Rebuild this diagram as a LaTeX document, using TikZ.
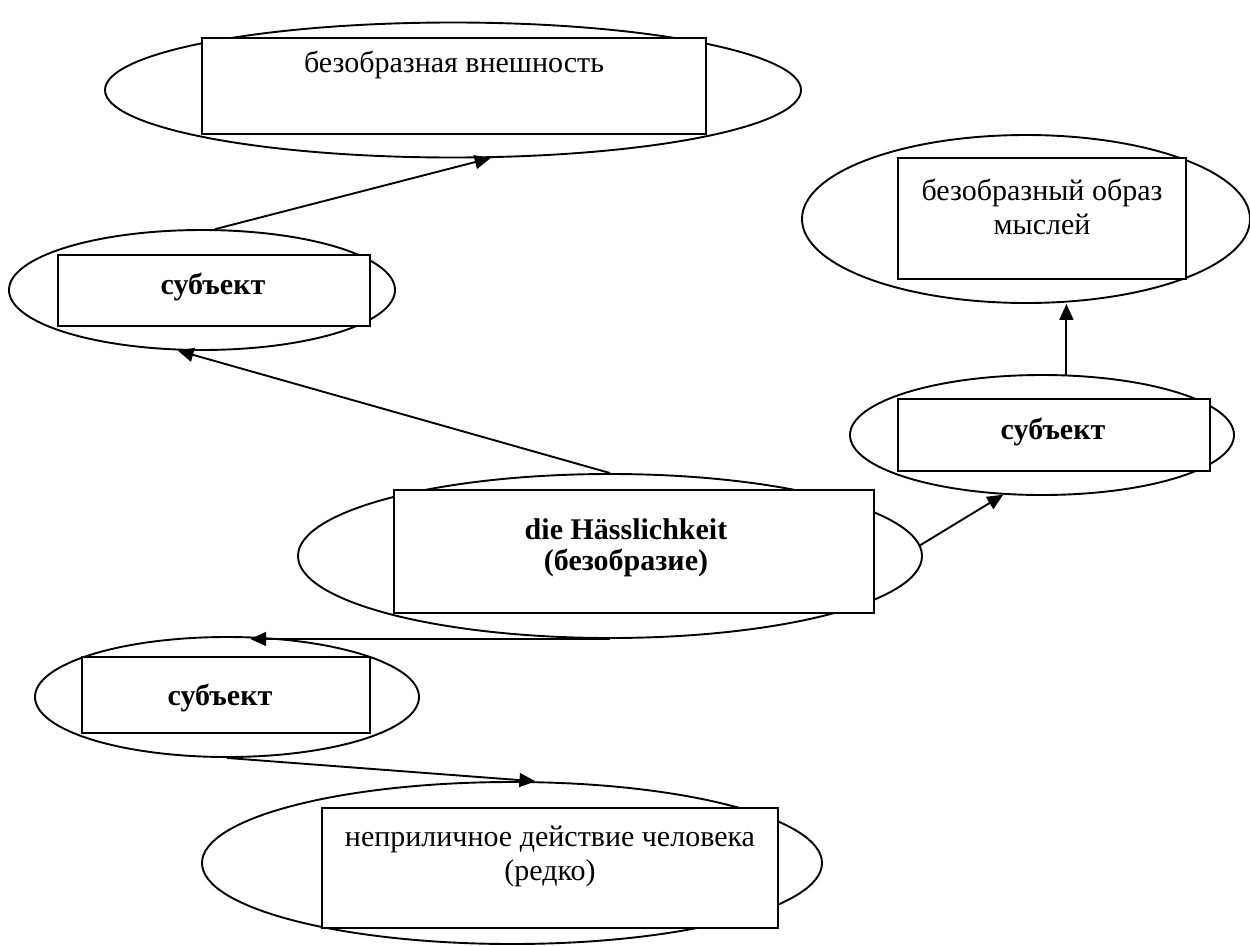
\documentclass[tikz,border=0pt]{standalone}
\usepackage{fontspec}
\setmainfont{Liberation Serif}
\usetikzlibrary{shapes.geometric,arrows.meta}
\begin{document}
\begin{tikzpicture}[x=1pt,y=-1pt,
  ell/.style={draw,ellipse,line width=1.9pt,inner sep=0pt},
  box/.style={draw,rectangle,fill=white,line width=1.9pt,inner sep=0pt},
  lbl/.style={align=center,font=\fontsize{30}{34}\selectfont,inner sep=0pt},
  blbl/.style={align=center,font=\fontsize{30}{31}\selectfont\bfseries,inner sep=0pt},
  arr/.style={line width=1.9pt,-{Triangle[length=16pt,width=14pt]}}]
\useasboundingbox[fill=white] (0,0) rectangle (1250,945);

% top: безобразная внешность
\node[ell,minimum width=696pt,minimum height=135pt] (e1) at (453,90) {};
\node[box,minimum width=504pt,minimum height=96pt] (r1) at (454,86) {};
\node[lbl] (t1) at (454,65) {безобразная внешность};

% subject 1
\node[ell,minimum width=386pt,minimum height=120pt] (e2) at (202,290) {};
\node[box,minimum width=312pt,minimum height=71pt] (r2) at (214,290.5) {};
\node[blbl] (t2) at (213,287) {субъект};

% top right: безобразный образ мыслей
\node[ell,minimum width=448pt,minimum height=168pt] (e3) at (1026,219) {};
\node[box,minimum width=288pt,minimum height=121pt] (r3) at (1042,218.5) {};
\node[lbl] (t3) at (1042,207) {безобразный образ\\мыслей};

% subject 2
\node[ell,minimum width=384pt,minimum height=120pt] (e4) at (1042,435) {};
\node[box,minimum width=312pt,minimum height=72pt] (r4) at (1054,435) {};
\node[blbl] (t4) at (1053,432) {субъект};

% main
\node[ell,minimum width=624pt,minimum height=164pt] (e0) at (610,556) {};
\node[box,minimum width=480pt,minimum height=123pt] (r0) at (634,551.5) {};
\node[blbl] (t0) at (626,548) {die Hässlichkeit\\(безобразие)};

% subject 3
\node[ell,minimum width=384pt,minimum height=120pt] (e5) at (227,697) {};
\node[box,minimum width=288pt,minimum height=76pt] (r5) at (226,695) {};
\node[blbl] (t5) at (220,698) {субъект};

% bottom: неприличное действие человека
\node[ell,minimum width=620pt,minimum height=162pt] (e6) at (512,863) {};
\node[box,minimum width=456pt,minimum height=120pt] (r6) at (550,868) {};
\node[lbl] (t6) at (550,856) {неприличное действие человека\\(редко)};

% connectors
\draw[arr] (e2.78) -- (e1.-61);
\draw[arr] (e0.north) -- (e2.-112);
\draw[arr] (e4.68) -- (e4.68 |- e3.south);
\draw[arr] (e0.2) -- (e4.-123);
\draw[arr] (e0.south) -- (e0.south -| e5.69);
\draw[arr] (e5.south) -- (e6.74);
\end{tikzpicture}
\end{document}
